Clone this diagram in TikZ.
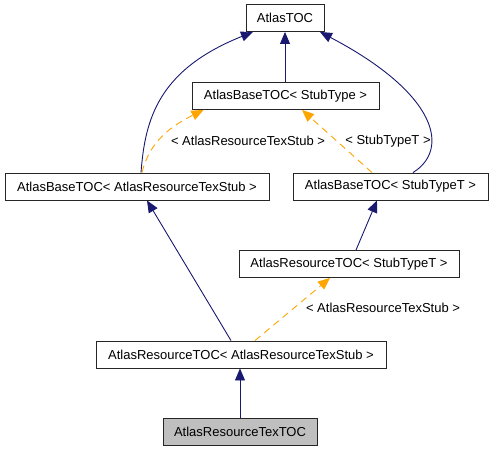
\documentclass[tikz,border=0pt]{standalone}
\usepackage{fontspec}
\setmainfont{Liberation Sans}
\usetikzlibrary{arrows.meta}
\definecolor{navy}{HTML}{191970}
\definecolor{orng}{HTML}{FFA500}
\definecolor{boxgray}{HTML}{BFBFBF}
\begin{document}
\begin{tikzpicture}[x=1pt,y=-1pt,
  box/.style={draw=black!85, line width=0.9pt, rectangle, inner sep=0pt, minimum height=27pt, font=\fontsize{13}{15}\selectfont, text=black},
  inh/.style={draw=navy, line width=0.9pt, -{Triangle[length=12pt,width=10pt,fill=navy]}},
  tmpl/.style={draw=orng, line width=0.9pt, dash pattern=on 7pt off 5pt, -{Triangle[length=12pt,width=10pt,fill=orng]}},
  lbl/.style={font=\fontsize{13}{15}\selectfont, inner sep=0pt, text=black}]
\useasboundingbox (0,0) rectangle (491,451);
\node[box, minimum width=78pt] (top) at (285,18) {AtlasTOC};
\node[box, minimum width=187pt] (sbt) at (285.5,96) {AtlasBaseTOC< StubType >};
\node[box, minimum width=264pt] (bart) at (137,186.5) {AtlasBaseTOC< AtlasResourceTexStub >};
\node[box, minimum width=195pt] (bst) at (390.5,186.5) {AtlasBaseTOC< StubTypeT >};
\node[box, minimum width=220pt] (rst) at (349,264) {AtlasResourceTOC< StubTypeT >};
\node[box, minimum width=290pt] (rart) at (241,354.5) {AtlasResourceTOC< AtlasResourceTexStub >};
\node[box, minimum width=154pt, fill=boxgray] (tex) at (240,432) {AtlasResourceTexTOC};

% solid inheritance
\draw[inh] (top.south |- sbt.north) -- (top.south);
\draw[inh] ([xshift=4pt]bart.north) .. controls +(4,-53) and +(-95,38) .. ([xshift=-32pt]top.south);
\draw[inh] ([xshift=22.5pt]bst.north) .. controls +(37,-23) and +(118,62) .. ([xshift=35pt]top.south);
\draw[inh] ([xshift=7pt]rst.north) -- ([xshift=-13.5pt]bst.south);
\draw[inh] ([xshift=-10pt]rart.north) -- ([xshift=10pt]bart.south);
\draw[inh] (tex.north) -- (tex.north |- rart.south);

% template instantiations
\draw[tmpl] ([xshift=5pt]bart.north) .. controls +(8,-33) and +(-30,15) .. ([xshift=-82pt]sbt.south);
\node[lbl] (l1) at (248,141) {< AtlasResourceTexStub >};
\draw[tmpl] ([xshift=-18.5pt]bst.north) -- ([xshift=16.5pt]sbt.south);
\node[lbl] (l2) at (388,141) {< StubTypeT >};
\draw[tmpl] ([xshift=14pt]rart.north) -- ([xshift=-19pt]rst.south);
\node[lbl] (l3) at (383,308) {< AtlasResourceTexStub >};
\end{tikzpicture}
\end{document}
